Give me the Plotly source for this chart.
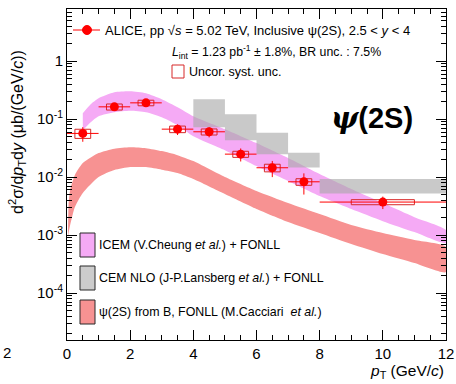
import plotly.graph_objects as go

# ---------------- data ----------------
# ALICE inclusive psi(2S), pp 5.02 TeV
pt = [0.5, 1.5, 2.5, 3.5, 4.5, 5.5, 6.5, 7.5, 10.0]
pt_half = [0.5, 0.5, 0.5, 0.5, 0.5, 0.5, 0.5, 0.5, 2.0]
xsec = [0.0567, 0.163, 0.191, 0.0672, 0.0605, 0.0249, 0.0145, 0.0083, 0.00371]
stat = [0.016, 0.015, 0.015, 0.014, 0.012, 0.0063, 0.0045, 0.0033, 0.0009]
syst_rel = [0.18, 0.12, 0.11, 0.13, 0.12, 0.12, 0.15, 0.13, 0.10]
box_half = [0.25, 0.25, 0.25, 0.25, 0.25, 0.25, 0.25, 0.25, 1.0]

# ICEM (V.Cheung et al.) + FONLL band
icem_x = [0.5, 0.75, 1.0, 1.5, 2.0, 2.5, 3.0, 3.5, 4.0, 5.0, 6.0, 7.0, 8.0, 9.0, 10.0, 11.0, 12.0]
icem_hi = [0.1269, 0.1814, 0.2302, 0.2921, 0.3039, 0.2807, 0.2212, 0.1610, 0.1126, 0.0672,
           0.0386, 0.02126, 0.01126, 0.00621, 0.00356, 0.00204, 0.00122]
icem_lo = [0.0646, 0.0887, 0.1126, 0.1320, 0.1402, 0.1320, 0.1083, 0.0788, 0.0509, 0.0292,
           0.01548, 0.00853, 0.00470, 0.00281, 0.00174, 0.001126, 0.000728]

# CEM NLO (J-P.Lansberg et al.) + FONLL boxes
cem_xlo = [4, 5, 6, 7, 8]
cem_xhi = [5, 6, 7, 8, 12]
cem_hi = [0.2212, 0.1220, 0.0580, 0.0262, 0.00924]
cem_lo = [0.0728, 0.0434, 0.0249, 0.01458, 0.00524]

# psi(2S) from B, FONLL band
fonll_x = [0.03, 0.05, 0.1, 0.25, 0.5, 1.0, 1.5, 2.0, 2.5, 3.0, 3.5, 4.0, 5.0, 6.0, 7.0,
           8.0, 9.0, 10.0, 11.0, 12.0]
fonll_hi = [0.000961, 0.00329, 0.00597, 0.01083, 0.01743, 0.02593, 0.0310, 0.0329, 0.0316,
            0.0281, 0.0239, 0.01887, 0.0100, 0.00574, 0.00356, 0.00230, 0.001488, 0.001083,
            0.000820, 0.000621]
fonll_lo = [0.000888, 0.001083, 0.001488, 0.00304, 0.00530, 0.0100, 0.01320, 0.01488, 0.01488,
            0.01346, 0.01173, 0.00924, 0.00509, 0.00281, 0.001675, 0.001083, 0.000700,
            0.000470, 0.000329, 0.000230]

y_tickvals = [1e-4, 1e-3, 1e-2, 1e-1, 1]
y_ticktext = ["10<sup>-4</sup>", "10<sup>-3</sup>", "10<sup>-2</sup>", "10<sup>-1</sup>", "1"]

# ---------------- figure ----------------
W, H = 456, 384
L, R, T, B = 67, 10, 9, 44
FONT = "Liberation Sans, Arial, Helvetica, sans-serif"


def PX(x):
    return (x - L) / (W - L - R)


def PY(y):
    return (H - B - y) / (H - T - B)


fig = go.Figure()

# FONLL feed-down band
fig.add_trace(go.Scatter(
    x=fonll_x + fonll_x[::-1], y=fonll_hi + fonll_lo[::-1],
    fill="toself", fillcolor="rgb(247,146,146)", mode="lines",
    line=dict(width=0, shape="spline", smoothing=0.6), hoverinfo="skip"))

# ICEM band
fig.add_trace(go.Scatter(
    x=icem_x + icem_x[::-1], y=icem_hi + icem_lo[::-1],
    fill="toself", fillcolor="rgb(245,170,245)", mode="lines",
    line=dict(width=0, shape="spline", smoothing=0.6), hoverinfo="skip"))

# CEM NLO boxes
bx, by = [], []
for a, b_, lo, hi in zip(cem_xlo, cem_xhi, cem_lo, cem_hi):
    bx += [a, b_, b_, a, a, None]
    by += [lo, lo, hi, hi, lo, None]
fig.add_trace(go.Scatter(
    x=bx, y=by, fill="toself", fillcolor="rgba(168,168,168,0.62)", mode="lines",
    line=dict(width=0), hoverinfo="skip"))

# systematic boxes
sx, sy = [], []
for x, y, s, hw in zip(pt, xsec, syst_rel, box_half):
    lo, hi = y * (1 - s), y * (1 + s)
    sx += [x - hw, x + hw, x + hw, x - hw, x - hw, None]
    sy += [lo, lo, hi, hi, lo, None]
fig.add_trace(go.Scatter(
    x=sx, y=sy, mode="lines", line=dict(color="rgb(215,40,40)", width=1), hoverinfo="skip"))

# data points
fig.add_trace(go.Scatter(
    x=pt, y=xsec, mode="markers",
    marker=dict(color="red", size=9, symbol="circle"),
    error_y=dict(type="data", array=stat, color="red", thickness=1, width=0),
    error_x=dict(type="data", array=pt_half, color="red", thickness=1, width=0)))

minor_y = [m * 10.0 ** e for e in range(-5, 1) for m in range(2, 10)]

fig.update_layout(
    width=W, height=H, margin=dict(l=L, r=R, t=T, b=B, autoexpand=False),
    paper_bgcolor="white", plot_bgcolor="white", showlegend=False,
    font=dict(family=FONT, color="black"),
    xaxis=dict(range=[0, 12], showgrid=False, zeroline=False, showline=True,
               linecolor="black", linewidth=1, mirror="allticks", ticks="inside",
               ticklen=10, tickcolor="black", dtick=2, tick0=0,
               tickfont=dict(size=15, family=FONT),
               minor=dict(ticks="inside", ticklen=5, dtick=0.5, tick0=0, tickcolor="black")),
    yaxis=dict(type="log", range=[-4.81, 0.9], showgrid=False, zeroline=False, showline=True,
               linecolor="black", linewidth=1, mirror="allticks", ticks="inside",
               ticklen=10, tickcolor="black", tickmode="array",
               tickvals=y_tickvals, ticktext=y_ticktext,
               tickfont=dict(size=15, family=FONT),
               minor=dict(ticks="inside", ticklen=5, tickmode="array", tickvals=minor_y,
                          tickcolor="black")),
)

shapes = []
ann = []

# ALICE legend entry: line + marker
shapes.append(dict(type="line", xref="paper", yref="paper",
                   x0=PX(73), x1=PX(100), y0=PY(30), y1=PY(30),
                   line=dict(color="red", width=1)))
shapes.append(dict(type="circle", xref="paper", yref="paper", xsizemode="pixel",
                   ysizemode="pixel", xanchor=PX(87), yanchor=PY(30),
                   x0=-4.5, x1=4.5, y0=-4.5, y1=4.5,
                   fillcolor="red", line=dict(color="red", width=1)))
ann.append(dict(x=PX(103), y=PY(30), xanchor="left", yanchor="middle",
                text="ALICE, pp √<i>s</i> = 5.02 TeV, Inclusive ψ(2S), 2.5 &lt; <i>y</i> &lt; 4",
                font=dict(size=13)))
ann.append(dict(x=PX(170), y=PY(52), xanchor="left", yanchor="middle",
                text="<i>L</i><sub>int</sub> = 1.23 pb<sup>-1</sup> ± 1.8%, BR unc. : 7.5%",
                font=dict(size=12.3)))
shapes.append(dict(type="rect", xref="paper", yref="paper",
                   x0=PX(172), x1=PX(184), y0=PY(78), y1=PY(65),
                   line=dict(color="rgb(215,40,40)", width=1)))
ann.append(dict(x=PX(187), y=PY(72), xanchor="left", yanchor="middle",
                text="Uncor. syst. unc.", font=dict(size=12.5)))

# psi(2S) label
ann.append(dict(x=PX(372), y=PY(118), xanchor="center", yanchor="middle",
                text="<span style='font-family:DejaVu Serif'><i><b>ψ</b></i></span><b>(2S)</b>",
                font=dict(size=29)))

# bottom legend
leg = [
    (245, "rgb(245,170,245)", "ICEM (V.Cheung <i>et al.</i>) + FONLL"),
    (278, "rgb(204,204,204)", "CEM NLO (J-P.Lansberg <i>et al.</i>) + FONLL"),
    (312, "rgb(247,146,146)", "ψ(2S) from B, FONLL (M.Cacciari  <i>et al.</i>)"),
]
for yc, col, txt in leg:
    shapes.append(dict(type="rect", xref="paper", yref="paper",
                       x0=PX(80), x1=PX(95), y0=PY(yc + 12), y1=PY(yc - 12),
                       fillcolor=col, line=dict(color="rgb(40,40,40)", width=1)))
    ann.append(dict(x=PX(97), y=PY(yc), xanchor="left", yanchor="middle",
                    text=txt, font=dict(size=12.4)))

# axis titles
ann.append(dict(x=PX(17), y=PY(132), xanchor="center", yanchor="middle", textangle=-90,
                text="d<sup>2</sup>σ/d<i>p</i><sub>T</sub>d<i>y</i> (μb/(GeV/<i>c</i>))",
                font=dict(size=16)))
ann.append(dict(x=PX(446), y=PY(371), xanchor="right", yanchor="middle",
                text="<i>p</i><sub>T</sub> (GeV/<i>c</i>)", font=dict(size=15.5)))
# cut-off tick label of neighbouring panel
ann.append(dict(x=PX(1), y=PY(352), xanchor="left", yanchor="middle",
                text="2", font=dict(size=15)))

for a in ann:
    a.update(xref="paper", yref="paper", showarrow=False)
fig.update_layout(shapes=shapes, annotations=ann)

fig.write_html("out.html", config={"displayModeBar": False},
               post_script="document.body.style.margin='0px';document.body.style.overflow='hidden';")
